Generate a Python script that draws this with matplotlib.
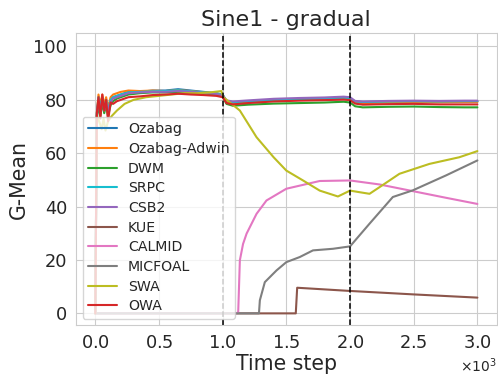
import matplotlib
matplotlib.use("Agg")
import matplotlib.pyplot as plt
import seaborn as sns

# time grid shared by the top group of methods
t_top = [0, 12, 25, 40, 55, 70, 85, 100, 120, 140, 170, 200, 260, 350, 450, 550, 650, 750, 850,
         950, 1000, 1030, 1080, 1200, 1400, 1600, 1800, 1950, 2000, 2040, 2100, 2300, 2500, 2700,
         2900, 3000]

ozabag = [0, 74, 80, 76, 81, 77, 80, 76, 80, 81, 81.5, 82, 83, 83, 83.5, 83.5, 84, 83.5, 83,
          82.5, 82, 79.5, 79, 79.5, 80, 80.3, 80.5, 80.8, 80.6, 79.3, 79, 79.2, 79.4, 79.3, 79.4, 79.4]
ozabag_adwin = [0, 75, 82, 78, 82, 78, 81, 77, 81, 82, 82.5, 83, 83.5, 83.3, 83.5, 83.3, 83.6, 83.3,
                82.8, 82.4, 81.8, 79.3, 78.8, 79.3, 79.8, 80.1, 80.3, 80.6, 80.4, 79.1, 78.8, 79,
                79.2, 79.1, 79.2, 79.2]
dwm = [0, 73, 78, 74, 79, 75, 78, 74, 78, 79.5, 80.5, 81, 82, 82.5, 82.8, 82.8, 83, 82.8, 82.4,
       82, 81.2, 78.5, 77.8, 78.2, 78.6, 78.8, 79, 79.3, 79, 77.6, 77.2, 77.4, 77.5, 77.3, 77.2, 77.2]
srpc = [0, 75, 81, 77, 81, 77, 80, 76, 80, 81, 81.5, 82, 82.8, 83, 83.2, 83.3, 83.6, 83.2, 82.8,
        82.4, 81.8, 79.6, 79.1, 79.5, 80, 80.3, 80.5, 80.8, 80.6, 79.4, 79.2, 79.4, 79.5, 79.4, 79.5, 79.5]
csb2 = [0, 74, 80, 77, 80, 76, 79, 76, 79, 80.5, 81, 81.5, 82.5, 82.8, 83, 83, 83.3, 83, 82.6,
        82.2, 81.6, 79.8, 79.4, 79.8, 80.4, 80.7, 80.9, 81.2, 81, 79.6, 79.4, 79.6, 79.7, 79.6, 79.7, 79.7]
owa = [0, 75, 81, 73, 82, 76, 80, 72, 79, 78.5, 79.5, 80, 81, 81.3, 81.8, 82, 82.3, 82, 81.8,
       81.5, 81, 78.8, 78.3, 78.8, 79.4, 79.7, 79.9, 80.1, 79.9, 78.6, 78.2, 78.4, 78.5, 78.3, 78.3, 78.3]

t_kue = [0, 1574, 1585, 2000, 2500, 3000]
kue = [0, 0, 9.6, 8.4, 7.1, 5.9]

t_calmid = [0, 1110, 1122, 1135, 1160, 1188, 1266, 1344, 1500, 1762, 2000, 2232, 2493, 2754, 3000]
calmid = [0, 0, 0.5, 19.9, 26, 29.9, 37.3, 42.3, 46.7, 49.6, 49.8, 48.3, 45.8, 43.3, 41]

t_micfoal = [0, 1285, 1292, 1331, 1423, 1500, 1605, 1709, 1866, 2000, 2153, 2336, 2493, 2754, 3000]
micfoal = [0, 0, 4.9, 11.7, 16.1, 19.2, 21.1, 23.6, 24.2, 25.1, 33.6, 43.6, 46.1, 51.7, 57.3]

t_swa = [0, 12, 30, 50, 65, 80, 100, 130, 170, 230, 300, 400, 500, 600, 700, 800, 900, 990, 1005,
         1135, 1266, 1400, 1500, 1631, 1762, 1905, 2000, 2075, 2153, 2232, 2388, 2623, 2858, 3000]
swa = [0, 74, 72, 69, 73, 68.5, 72, 74, 76, 78.5, 80, 81, 81.5, 82, 82.5, 82.5, 82.8, 83.3, 81,
       76, 66, 58.5, 53.5, 49.8, 46, 43.8, 46, 45.4, 44.8, 47.3, 52.3, 56, 58.5, 60.8]

drift_points = [1000, 2000]

sns.set_style("whitegrid")
plt.rcParams['font.family'] = ['DejaVu Sans']

fig = plt.figure(figsize=(4.98, 3.81), dpi=100)
ax = fig.add_axes([0.153, 0.146, 0.844, 0.767])

series = [
    ("Ozabag", t_top, ozabag, "tab:blue"),
    ("Ozabag-Adwin", t_top, ozabag_adwin, "tab:orange"),
    ("DWM", t_top, dwm, "tab:green"),
    ("SRPC", t_top, srpc, "tab:cyan"),
    ("CSB2", t_top, csb2, "tab:purple"),
    ("KUE", t_kue, kue, "tab:brown"),
    ("CALMID", t_calmid, calmid, "tab:pink"),
    ("MICFOAL", t_micfoal, micfoal, "tab:gray"),
    ("SWA", t_swa, swa, "tab:olive"),
    ("OWA", t_top, owa, "tab:red"),
]
for name, t, v, c in series:
    ax.plot(t, v, lw=1.5, color=c, label=name)

for d in drift_points:
    ax.axvline(d, color="black", ls="--", lw=1.1)

ax.set_ylim(-4.5, 105)
ax.set_yticks([0, 20, 40, 60, 80, 100])
ax.set_xticks([0, 500, 1000, 1500, 2000, 2500, 3000])
ax.ticklabel_format(style='sci', axis='x', scilimits=(0, 0), useMathText=True)
ax.tick_params(labelsize=12.8, pad=3)
ax.xaxis.get_offset_text().set_fontsize(10)

ax.set_title("Sine1 - gradual", fontsize=16, pad=5)
ax.set_xlabel("Time step", fontsize=14.8, labelpad=1.5)
ax.set_ylabel("G-Mean", fontsize=14.8, labelpad=3)

ax.legend(loc="lower left", fontsize=10.2, labelspacing=0.4, handlelength=2.0,
          borderaxespad=0.45)

plt.savefig("out.png", dpi=100)
